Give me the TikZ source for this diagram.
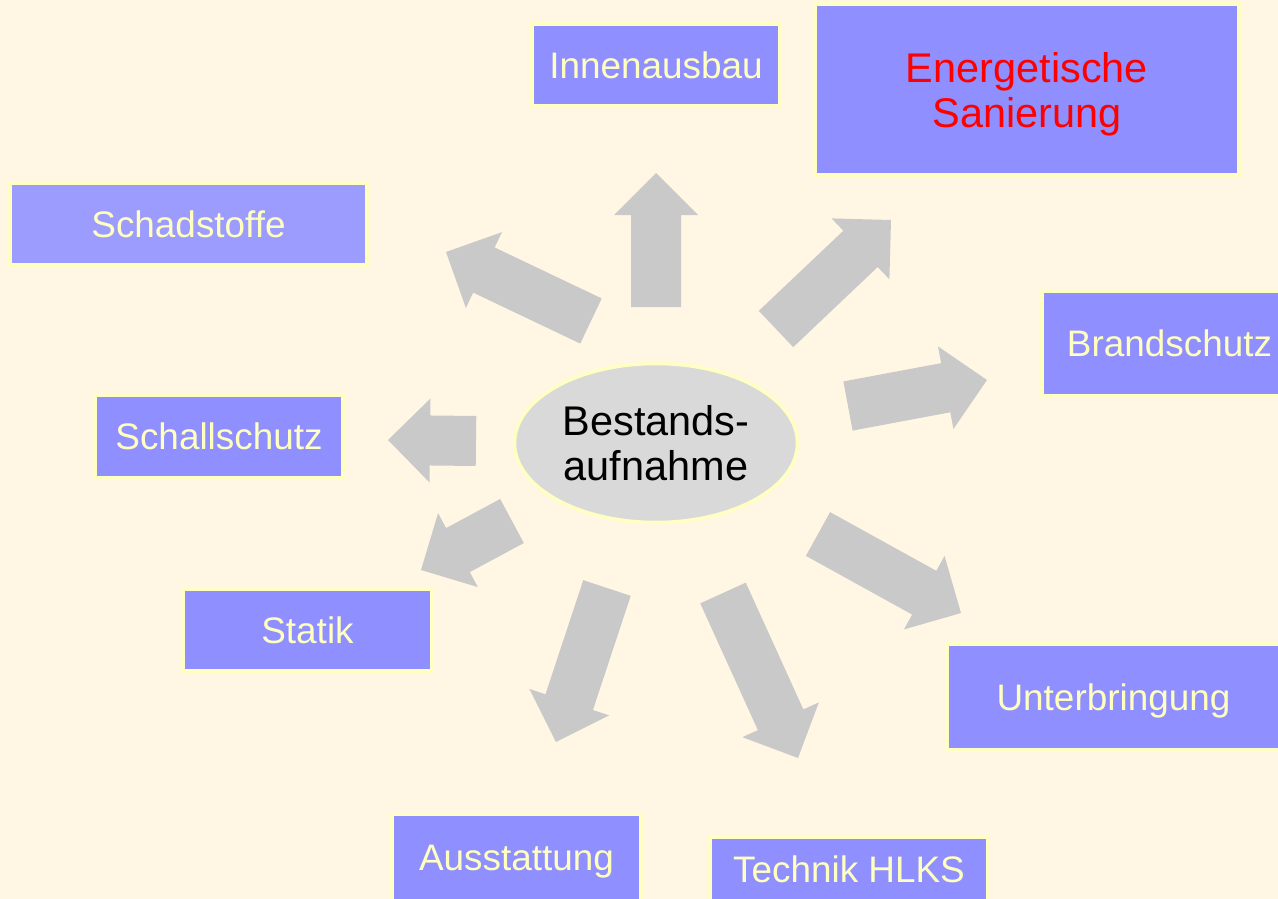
\documentclass[tikz,border=0pt]{standalone}
\usepackage{fontspec}
\setmainfont{Liberation Sans}
\usetikzlibrary{shapes.geometric,calc}
\definecolor{paper}{HTML}{FFF7E4}
\definecolor{boxfill}{HTML}{8F8FFF}
\definecolor{boxline}{HTML}{FFFFC4}
\definecolor{boxtext}{HTML}{FFFFC0}
\definecolor{arrowgrey}{HTML}{C9C9C9}
\definecolor{coregrey}{HTML}{D9D9D9}
\begin{document}
\begin{tikzpicture}[topic/.style={draw=boxline,fill=boxfill,line width=2.2pt,text=boxtext,
  inner sep=0pt,font=\fontsize{21}{24}\selectfont,text height=15pt,text depth=0pt},
  big/.style={font=\fontsize{23.6}{25.6}\selectfont},blockarrow/.style={fill=arrowgrey}]
\useasboundingbox (0,0) rectangle (25.56,-17.98);
\clip (0,0) rectangle (25.56,-17.98);
\fill[paper] (0,0) rectangle (25.56,-17.98);
\node[topic,minimum width=4.96cm,minimum height=1.64cm] (innen) at (13.12,-1.30) {Innenausbau};
\node[topic,big,text=red,text height=,text depth=0pt,align=center,minimum width=8.48cm,
  minimum height=3.42cm] (energie) at (20.54,-1.79) {Energetische\\Sanierung};
\node[topic,fill=boxfill!88!white,minimum width=7.14cm,minimum height=1.64cm] (schad) at (3.77,-4.48) {Schadstoffe};
\node[topic,minimum width=5.10cm,minimum height=2.08cm] (brand) at (23.39,-6.87) {Brandschutz};
\node[topic,minimum width=4.96cm,minimum height=1.66cm] (schall) at (4.38,-8.73) {Schallschutz};
\node[topic,minimum width=4.98cm,minimum height=1.64cm] (statik) at (6.15,-12.60) {Statik};
\node[topic,minimum width=6.66cm,minimum height=2.12cm] (unter) at (22.27,-13.94) {Unterbringung};
\node[topic,minimum width=4.98cm,minimum height=1.72cm] (ausst) at (10.33,-17.15) {Ausstattung};
\node[topic,minimum width=5.56cm,minimum height=1.28cm] (technik) at (16.98,-17.38) {Technik HLKS};
\node[ellipse,draw=boxline,fill=coregrey,line width=2pt,big,align=center,inner sep=0pt,
  minimum width=5.66cm,minimum height=3.18cm] (bestand) at (13.12,-8.86) {Bestands-\\aufnahme};
% Pfeile: Schaft 0.5cm, Spitze 0.84cm
\foreach \a/\b/\c/\d [count=\Y] in {13.12/-6.14/13.12/-3.46, 15.52/-6.58/17.82/-4.40,
  16.96/-8.12/19.74/-7.60, 11.82/-6.42/8.92/-5.04, 9.52/-8.82/7.76/-8.80,
  10.24/-10.42/8.42/-11.40, 12.14/-11.76/11.12/-14.84, 14.46/-11.86/15.96/-15.16,
  16.36/-10.68/19.22/-12.26}
  {\coordinate (S-\Y) at (\a,\b);
  \coordinate (T-\Y) at (\c,\d);
  \coordinate (H-\Y) at ($(T-\Y)!0.84cm!(S-\Y)$);
  \fill[blockarrow] ($(S-\Y)!0.5cm!90:(T-\Y)$) -- ($(H-\Y)!0.5cm!-90:(S-\Y)$)
  -- ($(H-\Y)!0.84cm!-90:(S-\Y)$) -- (T-\Y) -- ($(H-\Y)!0.84cm!90:(S-\Y)$)
  -- ($(H-\Y)!0.5cm!90:(S-\Y)$) -- ($(S-\Y)!0.5cm!-90:(T-\Y)$) -- cycle;}
\end{tikzpicture}
\end{document}
